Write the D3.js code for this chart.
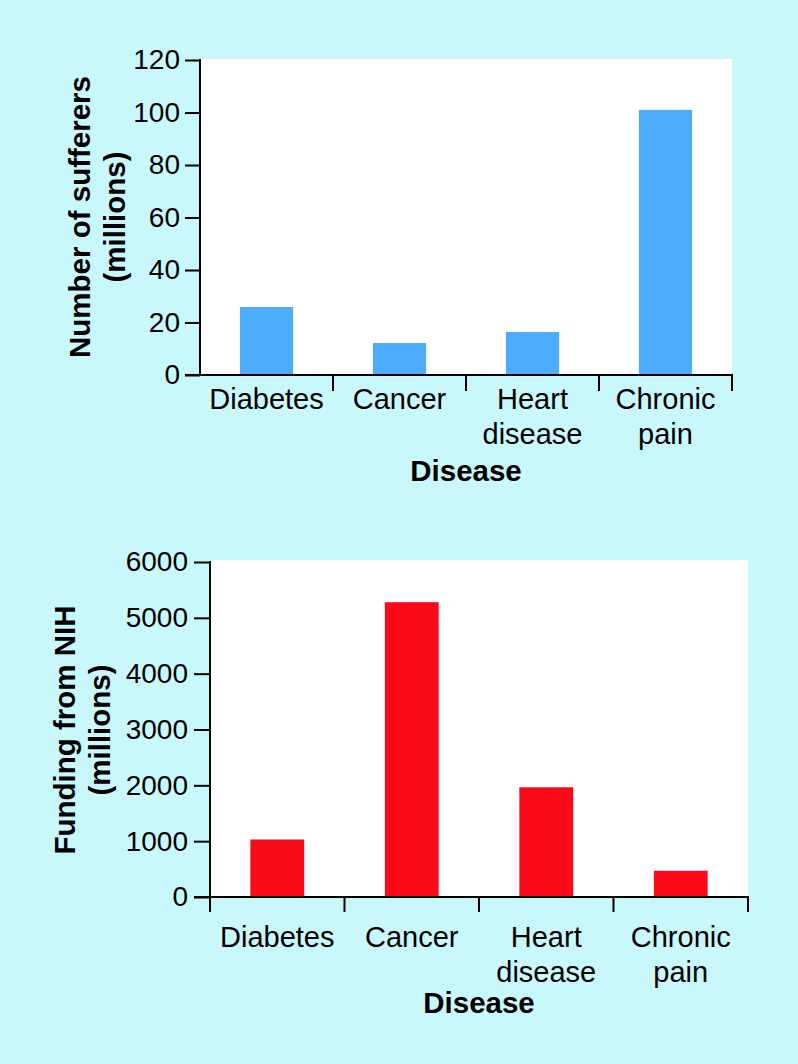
<!DOCTYPE html>
<html>
<head>
<meta charset="utf-8">
<script src="https://cdn.jsdelivr.net/npm/d3@7"></script>
<style>
  html, body { margin: 0; padding: 0; background: #c8f8fc; }
  svg { display: block; }
  text { font-family: "Liberation Sans", Arial, Helvetica, sans-serif; fill: #000; }
</style>
</head>
<body>
<svg id="chart" width="798" height="1064"></svg>
<script>
// ---- Data ----
const categories = ["Diabetes", "Cancer", "Heart disease", "Chronic pain"];
const sufferers = [25.9, 12.2, 16.4, 101];          // millions of people
const nihFunding = [1030, 5280, 1965, 470];         // millions of dollars
const sufferersTicks = [0, 20, 40, 60, 80, 100, 120];
const fundingTicks = [0, 1000, 2000, 3000, 4000, 5000, 6000];
const xAxisTitle = "Disease";
const sufferersTitle = ["Number of sufferers", "(millions)"];
const fundingTitle = ["Funding from NIH", "(millions)"];

// ---- Layout ----
const svg = d3.select("#chart");

function drawChart(cfg) {
  const g = svg.append("g");
  const x = d3.scaleBand().domain(categories).range([cfg.x0, cfg.x1]).padding(0);
  const xb = d3.scaleBand().domain(categories).range([cfg.x0, cfg.x1])
    .paddingInner(0.6).paddingOuter(0.3);
  const y = d3.scaleLinear().domain([0, cfg.yMax]).range([cfg.yBottom, cfg.yTop]);

  // white plot background
  g.append("rect")
    .attr("x", cfg.x0).attr("y", cfg.bgTop)
    .attr("width", cfg.x1 - cfg.x0).attr("height", cfg.yBottom - cfg.bgTop)
    .attr("fill", "#ffffff");

  // bars
  g.selectAll("rect.bar").data(cfg.values).join("rect")
    .attr("class", "bar")
    .attr("x", (d, i) => xb(categories[i]))
    .attr("width", xb.bandwidth())
    .attr("y", d => y(d))
    .attr("height", d => y(0) - y(d))
    .attr("fill", cfg.color);

  // y axis
  const yAxis = d3.axisLeft(y).tickValues(cfg.ticks).tickSize(cfg.tickLen).tickPadding(cfg.tickPad)
    .tickFormat(d3.format("d"));
  const ya = g.append("g").attr("transform", `translate(${cfg.x0},0)`).call(yAxis);
  ya.select(".domain").attr("stroke", "#000").attr("stroke-width", 2)
    .attr("d", `M0,${cfg.yTop - 1}V${cfg.yBottom + (cfg.leftTick ? cfg.xTickLen : 0)}`);
  ya.selectAll(".tick line").attr("stroke", "#000").attr("stroke-width", 2);
  ya.selectAll(".tick text").attr("font-size", cfg.tickFont).attr("fill", "#000")
    .attr("font-family", '"Liberation Sans", Arial, sans-serif');

  // x axis (ticks at category boundaries)
  const xa = g.append("g").attr("transform", `translate(0,${cfg.yBottom})`);
  xa.append("line").attr("x1", cfg.x0 - cfg.tickLen).attr("x2", cfg.x1 + 1)
    .attr("y1", 0).attr("y2", 0).attr("stroke", "#000").attr("stroke-width", 2);
  xa.selectAll("line.bt").data(categories).join("line")
    .attr("class", "bt")
    .attr("x1", d => x(d) + x.bandwidth()).attr("x2", d => x(d) + x.bandwidth())
    .attr("y1", 0).attr("y2", cfg.xTickLen)
    .attr("stroke", "#000").attr("stroke-width", 2);

  // category labels
  categories.forEach((c) => {
    const lines = c.split(" ");
    const cx = x(c) + x.bandwidth() / 2;
    const t = xa.append("text")
      .attr("text-anchor", "middle")
      .attr("font-size", cfg.catFont)
      .attr("x", cx)
      .attr("y", cfg.labelY);
    lines.forEach((ln, j) => {
      t.append("tspan").attr("x", cx)
        .attr("dy", j === 0 ? 0 : cfg.lineGap).text(ln);
    });
  });

  // x title
  g.append("text").attr("text-anchor", "middle").attr("font-weight", "bold")
    .attr("font-size", cfg.xTitleFont)
    .attr("x", (cfg.x0 + cfg.x1) / 2).attr("y", cfg.xTitleY)
    .text(xAxisTitle);

  // y title (two lines, rotated)
  cfg.yTitle.forEach((ln, j) => {
    g.append("text").attr("text-anchor", "middle").attr("font-weight", "bold")
      .attr("font-size", cfg.yTitleFont)
      .attr("transform", `translate(${cfg.yTitleX[j]},${cfg.yTitleCY}) rotate(-90)`)
      .text(ln);
  });
}

drawChart({
  values: sufferers, ticks: sufferersTicks, yMax: 120, color: "#4dadfc",
  x0: 200, x1: 732, yTop: 60, yBottom: 375, bgTop: 59,
  tickLen: 15, tickPad: 5, tickFont: 28, xTickLen: 16, leftTick: false,
  catFont: 29, labelY: 34, lineGap: 35,
  xTitleFont: 29.5, xTitleY: 481,
  yTitle: sufferersTitle, yTitleFont: 29.5, yTitleX: [90, 125], yTitleCY: 217
});

drawChart({
  values: nihFunding, ticks: fundingTicks, yMax: 6000, color: "#fc0a19",
  x0: 210, x1: 748, yTop: 562, yBottom: 897, bgTop: 560,
  tickLen: 16, tickPad: 6, tickFont: 28, xTickLen: 15, leftTick: true,
  catFont: 29, labelY: 50, lineGap: 35,
  xTitleFont: 29.5, xTitleY: 1013,
  yTitle: fundingTitle, yTitleFont: 29.5, yTitleX: [75, 110], yTitleCY: 730
});
</script>
</body>
</html>
